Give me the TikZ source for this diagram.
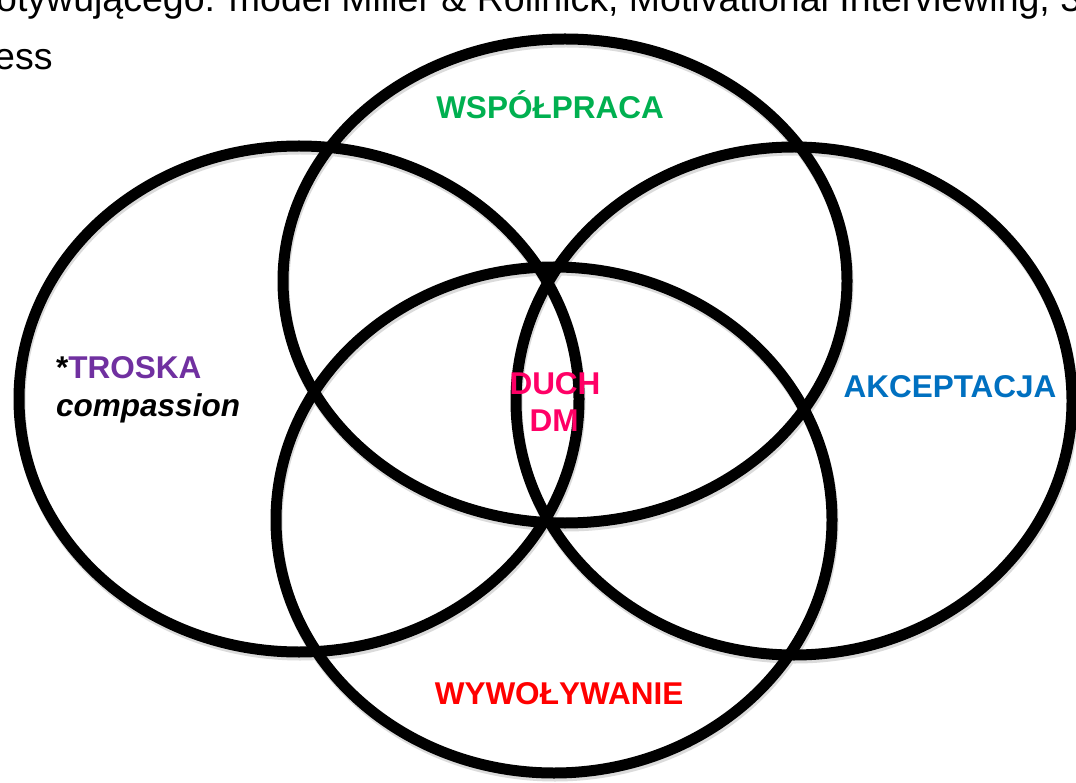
\documentclass[tikz,border=0pt]{standalone}
\usepackage{fontspec}
\setmainfont{Liberation Sans}
\definecolor{wgreen}{HTML}{00B050}
\definecolor{wblue}{HTML}{0070C0}
\definecolor{wred}{HTML}{FF0000}
\definecolor{wpurple}{HTML}{7030A0}
\definecolor{wpink}{HTML}{FF0066}
\begin{document}
\begin{tikzpicture}[x=1pt,y=-1pt,
  ring/.style={line width=11pt,draw=black},
  ringshadow/.style={line width=11pt,draw=black!14},
  lbl/.style={font=\fontsize{31.5}{36}\selectfont\bfseries,inner sep=0pt,anchor=base},
  toptext/.style={font=\fontsize{37.5}{42}\selectfont,inner sep=0pt,anchor=base west}]
\useasboundingbox (0,0) rectangle (1076,783);
\fill[white] (0,0) rectangle (1076,783);
% top text (partly cut off)
\node[toptext] (line1) at (-4,12) {otywującego: model Miller \& Rollnick, Motivational Interviewing, 3};
\node[toptext] (line2) at (-6,70) {ess};
% soft shadows
\draw[ringshadow] (566,284) ellipse [x radius=282, y radius=242];
\draw[ringshadow] (300,402) ellipse [x radius=280, y radius=253];
\draw[ringshadow] (795,404) ellipse [x radius=278, y radius=254];
\draw[ringshadow] (555,523) ellipse [x radius=278, y radius=253];
% rings
\draw[ring] (565,281) ellipse [x radius=282, y radius=242];
\draw[ring] (299,399) ellipse [x radius=280, y radius=253];
\draw[ring] (794,401) ellipse [x radius=278, y radius=254];
\draw[ring] (554,520) ellipse [x radius=278, y radius=253];
% labels
\node[lbl,text=wgreen] (wsp) at (550,119) {WSPÓŁPRACA};
\node[lbl,text=wblue] (akc) at (950,397) {AKCEPTACJA};
\node[lbl,text=wred] (wyw) at (559,704) {WYWOŁYWANIE};
\node[lbl,anchor=base west] (tro) at (56,378) {*\textcolor{wpurple}{TROSKA}};
\node[lbl,anchor=base west,font=\fontsize{31.5}{36}\selectfont\bfseries\itshape] (comp) at (56,416) {compassion};
\node[lbl,text=wpink] (duch) at (555,394) {DUCH};
\node[lbl,text=wpink] (dm) at (554,431) {DM};
\end{tikzpicture}
\end{document}
